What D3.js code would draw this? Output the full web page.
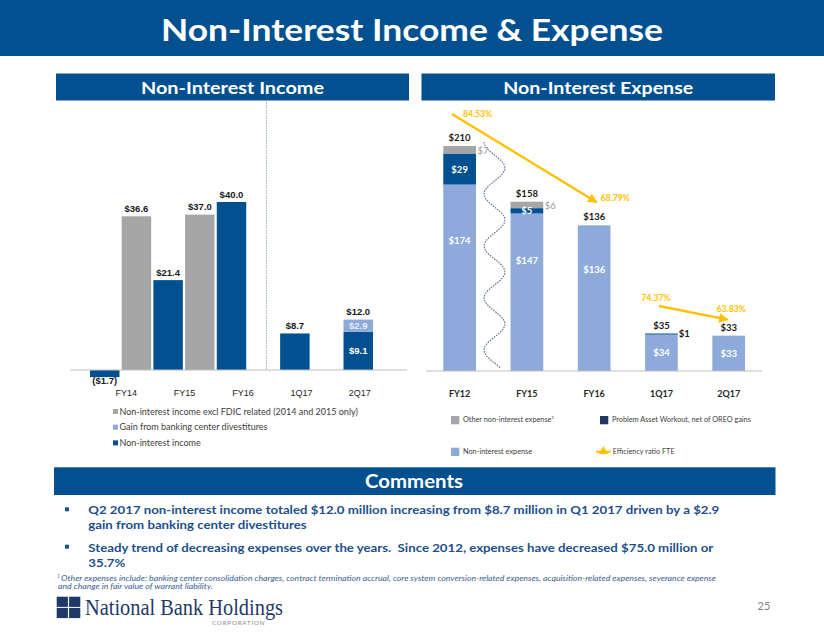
<!DOCTYPE html>
<html>
<head>
<meta charset="utf-8">
<script src="https://cdn.jsdelivr.net/npm/d3@7"></script>
<style>
    body { margin: 0; background: white; }
    svg { display: block; }
</style>
</head>
<body>
<div id="bigdiv"></div>
<script>
// ---- data ----
const incomeCats = ['FY14', 'FY15', 'FY16', '1Q17', '2Q17']
const incomeExclFdic = [36.6, 37.0, null, null, null]
const incomeGain = [null, null, null, null, 2.9]
const incomeCore = [-1.7, 21.4, 40.0, 8.7, 9.1]
const incomeLegend = ['Non-interest income excl FDIC related (2014 and 2015 only)',
    'Gain from banking center divestitures', 'Non-interest income']

const expenseCats = ['FY12', 'FY15', 'FY16', '1Q17', '2Q17']
const expenseBase = [174, 147, 136, 34, 33]
const expenseProblem = [29, 5, 0, 1, 0]
const expenseOther = [7, 6, 0, 0, 0]
const efficiencyCats = ['FY12', 'FY16', '1Q17', '2Q17']
const efficiencyRatio = [84.53, 68.79, 74.37, 63.83]
const expenseLegend = ['Other non-interest expense', 'Problem Asset Workout, net of OREO gains',
    'Non-interest expense', 'Efficiency ratio FTE']

const comments = [
    ['Q2 2017 non-interest income totaled $12.0 million increasing from $8.7 million in Q1 2017 driven by a $2.9',
        'gain from banking center divestitures'],
    ['Steady trend of decreasing expenses over the years.  Since 2012, expenses have decreased $75.0 million or',
        '35.7%']
]
const footnote = ['Other expenses include: banking center consolidation charges, contract termination accrual, core system conversion-related expenses, acquisition-related expenses, severance expense',
    'and change in fair value of warrant liability.']

// ---- styles ----
const navy = '#02508f'
const gray = '#a6a6a6'
const lightblue = '#8eaadb'
const gold = '#ffc000'
const sans = 'Lato, "Open Sans", sans-serif'
const arial = '"Liberation Sans", Arial, sans-serif'

// widen text to the width it takes in the slide font
function fitTo(sel, w) {
    sel.attr('textLength', w).attr('lengthAdjust', 'spacingAndGlyphs')
}
function stretchBy(sel, k) {
    sel.each(function () {
        let n = this.getComputedTextLength()
        d3.select(this).attr('textLength', n * k).attr('lengthAdjust', 'spacingAndGlyphs')
    })
}

const svg = d3.select('div#bigdiv').append('svg')
    .attr('width', 824).attr('height', 637)
    .style('background-color', 'white')

const defs = svg.append('defs')
defs.append('marker')
    .attr('id', 'arrowhead')
    .attr('viewBox', '0 0 10 10')
    .attr('refX', 9).attr('refY', 5)
    .attr('markerWidth', 4).attr('markerHeight', 4)
    .attr('orient', 'auto')
    .append('path').attr('d', 'M0,0 L10,5 L0,10 Z').attr('fill', gold)

// ---- header bands ----
svg.append('rect').attr('x', 0).attr('y', 0).attr('width', 824).attr('height', 56).attr('fill', navy)
let title = svg.append('text').attr('x', 412).attr('y', 41).attr('text-anchor', 'middle')
    .attr('fill', 'white').attr('font-family', sans).attr('font-weight', 'bold').attr('font-size', 29.5)
    .text('Non-Interest Income & Expense')
fitTo(title, 502)

let subheads = [
    { x: 56, w: 353, label: 'Non-Interest Income', tw: 183 },
    { x: 421.5, w: 353.5, label: 'Non-Interest Expense', tw: 190 }
]
subheads.forEach(s => {
    svg.append('rect').attr('x', s.x).attr('y', 73.5).attr('width', s.w).attr('height', 27).attr('fill', navy)
    let t = svg.append('text').attr('x', s.x + s.w / 2).attr('y', 93.5).attr('text-anchor', 'middle')
        .attr('fill', 'white').attr('font-family', sans).attr('font-weight', 'bold').attr('font-size', 17.5)
        .text(s.label)
    fitTo(t, s.tw)
})

// ---- left chart: non-interest income ----
let incg = svg.append('g').attr('id', 'incomeg')
const yInc = d3.scaleLinear().domain([0, 40]).range([370, 202])
const slotX = d3.scaleBand().domain(d3.range(9)).range([90, 373]).paddingInner(0.07).paddingOuter(0)
const incLabelX = d3.scaleBand().domain(incomeCats).range([97, 389])
// which slot each bar of a category sits in: [core, excl FDIC]
const incSlots = [[0, 1], [2, 3], [4], [6], [8]]

let incBars = []
let incLabels = []
const fmt1 = d3.format('.1f')
incomeCats.forEach((c, i) => {
    let s = incSlots[i][0]
    let cx = slotX(s) + slotX.bandwidth() / 2
    let core = incomeCore[i]
    incBars.push({ slot: s, y0: 0, y1: core, fill: navy })
    if (incomeGain[i] != null) {
        incBars.push({ slot: s, y0: core, y1: core + incomeGain[i], fill: lightblue })
        incLabels.push({ x: cx, y: (yInc(core) + yInc(0)) / 2 + 3.5, t: '$' + fmt1(core), fill: 'white' })
        incLabels.push({ x: cx, y: (yInc(core) + yInc(core + incomeGain[i])) / 2 + 3.5, t: '$' + fmt1(incomeGain[i]), fill: '#e4ebf7' })
        incLabels.push({ x: cx, y: yInc(core + incomeGain[i]) - 4.5, t: '$' + fmt1(core + incomeGain[i]), fill: '#1a1a1a' })
    } else if (core < 0) {
        incLabels.push({ x: cx, y: yInc(core) + 7, t: '($' + fmt1(-core) + ')', fill: '#1a1a1a' })
    } else {
        incLabels.push({ x: cx, y: yInc(core) - 4.5, t: '$' + fmt1(core), fill: '#1a1a1a' })
    }
    if (incomeExclFdic[i] != null) {
        let s2 = incSlots[i][1]
        incBars.push({ slot: s2, y0: 0, y1: incomeExclFdic[i], fill: gray })
        incLabels.push({ x: slotX(s2) + slotX.bandwidth() / 2, y: yInc(incomeExclFdic[i]) - 4.5, t: '$' + fmt1(incomeExclFdic[i]), fill: '#1a1a1a' })
    }
})

// divider between annual and quarterly
incg.append('line').attr('x1', 266.5).attr('x2', 266.5).attr('y1', 100).attr('y2', 370)
    .attr('stroke', '#9fb1cc').attr('stroke-width', 1).attr('stroke-dasharray', '1.5,1')

incg.selectAll('rect.incbar').data(incBars).enter().append('rect')
    .attr('class', 'incbar')
    .attr('x', d => slotX(d.slot))
    .attr('width', slotX.bandwidth())
    .attr('y', d => yInc(Math.max(d.y0, d.y1)))
    .attr('height', d => Math.abs(yInc(d.y0) - yInc(d.y1)))
    .attr('fill', d => d.fill)

incg.append('line').attr('x1', 70).attr('x2', 407).attr('y1', yInc(0)).attr('y2', yInc(0))
    .attr('stroke', '#bfbfbf').attr('stroke-width', 1)

incg.selectAll('text.inclabel').data(incLabels).enter().append('text')
    .attr('class', 'inclabel')
    .attr('x', d => d.x).attr('y', d => d.y)
    .attr('text-anchor', 'middle').attr('font-family', arial).attr('font-weight', 'bold')
    .attr('font-size', 9.5).attr('fill', d => d.fill)
    .text(d => d.t)

incg.selectAll('text.inccat').data(incomeCats).enter().append('text')
    .attr('class', 'inccat')
    .attr('x', d => incLabelX(d) + incLabelX.bandwidth() / 2)
    .attr('y', 396)
    .attr('text-anchor', 'middle').attr('font-family', arial).attr('font-size', 9).attr('fill', '#262626')
    .text(d => d)

let incLegColors = [gray, lightblue, navy]
let incLeg = incg.selectAll('g.incleg').data(incomeLegend).enter().append('g')
    .attr('class', 'incleg')
    .attr('transform', (d, i) => 'translate(113,' + (411.5 + i * 15.7) + ')')
incLeg.append('rect').attr('x', 0).attr('y', -2.5).attr('width', 5).attr('height', 5)
    .attr('fill', (d, i) => incLegColors[i])
incLeg.append('text').attr('x', 6.5).attr('y', 3.2)
    .attr('font-family', sans).attr('font-size', 9).attr('fill', '#404040')
    .text(d => d)

// ---- right chart: non-interest expense ----
let expg = svg.append('g').attr('id', 'expenseg')
const yExp = d3.scaleLinear().domain([0, 210]).range([371, 146])
const xExp = d3.scaleBand().domain(expenseCats).range([426, 762.3]).paddingInner(0.514).paddingOuter(0.257)
const bw = xExp.bandwidth()

let expBars = []
let expLabels = []
expenseCats.forEach((c, i) => {
    let x = xExp(c)
    let b = expenseBase[i], p = expenseProblem[i], o = expenseOther[i]
    let total = b + p + o
    expBars.push({ x: x, y0: 0, y1: b, fill: lightblue })
    let hb = yExp(0) - yExp(b)
    let ly = hb > 60 ? yExp(b) + hb * 0.3 : yExp(b) + hb / 2
    expLabels.push({ x: x + bw / 2, y: ly + 3.5, t: '$' + b, fill: 'white', anchor: 'middle', bold: true })
    if (p > 0) {
        expBars.push({ x: x, y0: b, y1: b + p, fill: navy })
        let hp = yExp(b) - yExp(b + p)
        if (hp > 4) {
            expLabels.push({ x: x + bw / 2, y: (yExp(b) + yExp(b + p)) / 2 + 3.5, t: '$' + p, fill: 'white', anchor: 'middle', bold: true })
        } else {
            expLabels.push({ x: x + bw + 1, y: yExp(b + p) + 3.5, t: '$' + p, fill: '#1a1a1a', anchor: 'start', bold: true })
        }
    }
    if (o > 0) {
        expBars.push({ x: x, y0: b + p, y1: total, fill: gray })
        expLabels.push({ x: x + bw + 1.5, y: (yExp(b + p) + yExp(total)) / 2 + 4, t: '$' + o, fill: '#9a9a9a', anchor: 'start', bold: false })
    }
    expLabels.push({ x: x + bw / 2, y: yExp(total) - 5, t: '$' + total, fill: '#1a1a1a', anchor: 'middle', bold: true })
})

// wavy break between FY12 and FY15
let wave = d3.range(0, 227, 2).map(t => [494.5 + 10.5 * Math.sin(-Math.PI / 2 + t / 52 * 2 * Math.PI), 142 + t])
expg.append('path').attr('d', d3.line().curve(d3.curveBasis)(wave))
    .attr('fill', 'none').attr('stroke', '#5a6f8f').attr('stroke-width', 1.1).attr('stroke-dasharray', '1.6,1.1')

expg.selectAll('rect.expbar').data(expBars).enter().append('rect')
    .attr('class', 'expbar')
    .attr('x', d => d.x)
    .attr('width', bw)
    .attr('y', d => yExp(d.y1))
    .attr('height', d => yExp(d.y0) - yExp(d.y1))
    .attr('fill', d => d.fill)

expg.append('line').attr('x1', 426).attr('x2', 762).attr('y1', yExp(0)).attr('y2', yExp(0))
    .attr('stroke', '#bfbfbf').attr('stroke-width', 1)

expg.selectAll('text.explabel').data(expLabels).enter().append('text')
    .attr('class', 'explabel')
    .attr('x', d => d.x).attr('y', d => d.y)
    .attr('text-anchor', d => d.anchor).attr('font-family', sans)
    .attr('font-weight', d => d.bold ? 'bold' : 'normal')
    .attr('font-size', 9.5).attr('fill', d => d.fill)
    .text(d => d.t)

expg.selectAll('text.expcat').data(expenseCats).enter().append('text')
    .attr('class', 'expcat')
    .attr('x', d => xExp(d) + bw / 2)
    .attr('y', 396.5)
    .attr('text-anchor', 'middle').attr('font-family', sans).attr('font-weight', 'bold')
    .attr('font-size', 9).attr('fill', '#262626')
    .text(d => d)

// efficiency ratio arrows, anchored above the bar totals
const totalOf = c => {
    let i = expenseCats.indexOf(c)
    return expenseBase[i] + expenseProblem[i] + expenseOther[i]
}
const effLift = [32, 23, 27.5, 16]
const effDx = [-7.7, 2.5, -2.5, -1]
let effPts = efficiencyCats.map((c, i) => ({
    c: c, v: efficiencyRatio[i],
    x: xExp(c) + bw / 2 + effDx[i],
    y: yExp(totalOf(c)) - effLift[i]
}))
let effPairs = [[0, 1], [2, 3]]
effPairs.forEach(pr => {
    let a = effPts[pr[0]], b = effPts[pr[1]]
    expg.append('line').attr('x1', a.x).attr('y1', a.y).attr('x2', b.x).attr('y2', b.y)
        .attr('stroke', gold).attr('stroke-width', 2.4).attr('marker-end', 'url(#arrowhead)')
})
const effTextPos = [[11, 3, 'start'], [4, -1.5, 'start'], [-3, -5, 'middle'], [3.5, -8, 'middle']]
expg.selectAll('text.efflabel').data(effPts).enter().append('text')
    .attr('class', 'efflabel')
    .attr('x', (d, i) => d.x + effTextPos[i][0])
    .attr('y', (d, i) => d.y + effTextPos[i][1])
    .attr('text-anchor', (d, i) => effTextPos[i][2])
    .attr('font-family', sans).attr('font-weight', 'bold').attr('font-size', 8.7).attr('fill', gold)
    .text(d => d3.format('.2f')(d.v) + '%')

// expense legend
let expLegPos = [[451, 416], [600, 416], [451, 447.7], [596, 447.7]]
let expLegColors = [gray, '#1f3864', lightblue, gold]
let expLeg = expg.selectAll('g.expleg').data(expenseLegend).enter().append('g')
    .attr('class', 'expleg')
    .attr('transform', (d, i) => 'translate(' + expLegPos[i][0] + ',' + expLegPos[i][1] + ')')
expLeg.each(function (d, i) {
    let g = d3.select(this)
    let tx = 12
    if (i < 3) {
        g.append('rect').attr('x', 0).attr('y', 0).attr('width', 8.3).attr('height', 8.3).attr('fill', expLegColors[i])
    } else {
        tx = 16.7
        g.append('line').attr('x1', 0).attr('x2', 14.7).attr('y1', 4).attr('y2', 4)
            .attr('stroke', gold).attr('stroke-width', 2)
        g.append('path').attr('d', d3.symbol(d3.symbolTriangle, 38)())
            .attr('transform', 'translate(7.3,3.6)').attr('fill', gold)
    }
    let t = g.append('text').attr('x', tx).attr('y', 6.3)
        .attr('font-family', sans).attr('font-size', 7.3).attr('fill', '#404040')
        .text(d)
    if (i === 0) {
        t.append('tspan').attr('dy', -3).attr('font-size', 4.5).text('1')
    }
})

// ---- comments ----
svg.append('rect').attr('x', 54).attr('y', 467.3).attr('width', 721.5).attr('height', 27.7).attr('fill', navy)
let chead = svg.append('text').attr('x', 414).attr('y', 487.5).attr('text-anchor', 'middle')
    .attr('fill', 'white').attr('font-family', sans).attr('font-weight', 'bold').attr('font-size', 19.5)
    .text('Comments')
fitTo(chead, 98)

let bulletTop = [514.3, 551.7]
let bulletLines = []
comments.forEach((lines, bi) => {
    svg.append('rect').attr('x', 65).attr('y', bulletTop[bi] - 7).attr('width', 4).attr('height', 4).attr('fill', '#1c4f8c')
    lines.forEach((ln, li) => {
        let t = svg.append('text').attr('x', 88.3).attr('y', bulletTop[bi] + li * 15)
            .attr('font-family', sans).attr('font-weight', 'bold').attr('font-size', 12.1).attr('fill', '#1c4f8c')
            .style('white-space', 'pre')
            .text(ln)
        bulletLines.push(t)
    })
})
// first line spans 88 -> 719 in the slide
let bk = 631 / bulletLines[0].node().getComputedTextLength()
bulletLines.forEach(t => stretchBy(t, bk))

svg.append('text').attr('x', 57).attr('y', 578.3)
    .attr('font-family', sans).attr('font-style', 'italic').attr('font-size', 4.8).attr('fill', '#3b5e94')
    .text('1')
let footLines = footnote.map((ln, i) => svg.append('text').attr('x', i === 0 ? 61 : 58).attr('y', 580.8 + i * 8.5)
    .attr('font-family', sans).attr('font-style', 'italic').attr('font-size', 7.9).attr('fill', '#3b5e94')
    .text(ln))
let fk = 655 / footLines[0].node().getComputedTextLength()
footLines.forEach(t => stretchBy(t, fk))

// ---- logo + page number ----
let logo = svg.append('g').attr('id', 'logog')
let sq = [[0, 0], [1, 0], [0, 1], [1, 1]]
logo.selectAll('rect').data(sq).enter().append('rect')
    .attr('x', d => 56.7 + d[0] * 12.4).attr('y', d => 596.7 + d[1] * 11.2)
    .attr('width', 11.2).attr('height', 10.2).attr('fill', '#1f3a68')
logo.append('text').attr('x', 85).attr('y', 615)
    .attr('font-family', '"Liberation Serif", "DejaVu Serif", serif').attr('font-size', 22.5).attr('fill', '#1f3a68')
    .attr('textLength', 198).attr('lengthAdjust', 'spacingAndGlyphs')
    .text('National Bank Holdings')
logo.append('text').attr('x', 212).attr('y', 624.5)
    .attr('font-family', sans).attr('font-size', 6.3).attr('letter-spacing', 0.75).attr('fill', '#8c8c8c')
    .text('CORPORATION')

svg.append('text').attr('x', 764).attr('y', 610).attr('text-anchor', 'middle')
    .attr('font-family', sans).attr('font-size', 11).attr('fill', '#7f7f7f')
    .text('25')
</script>
</body>
</html>
